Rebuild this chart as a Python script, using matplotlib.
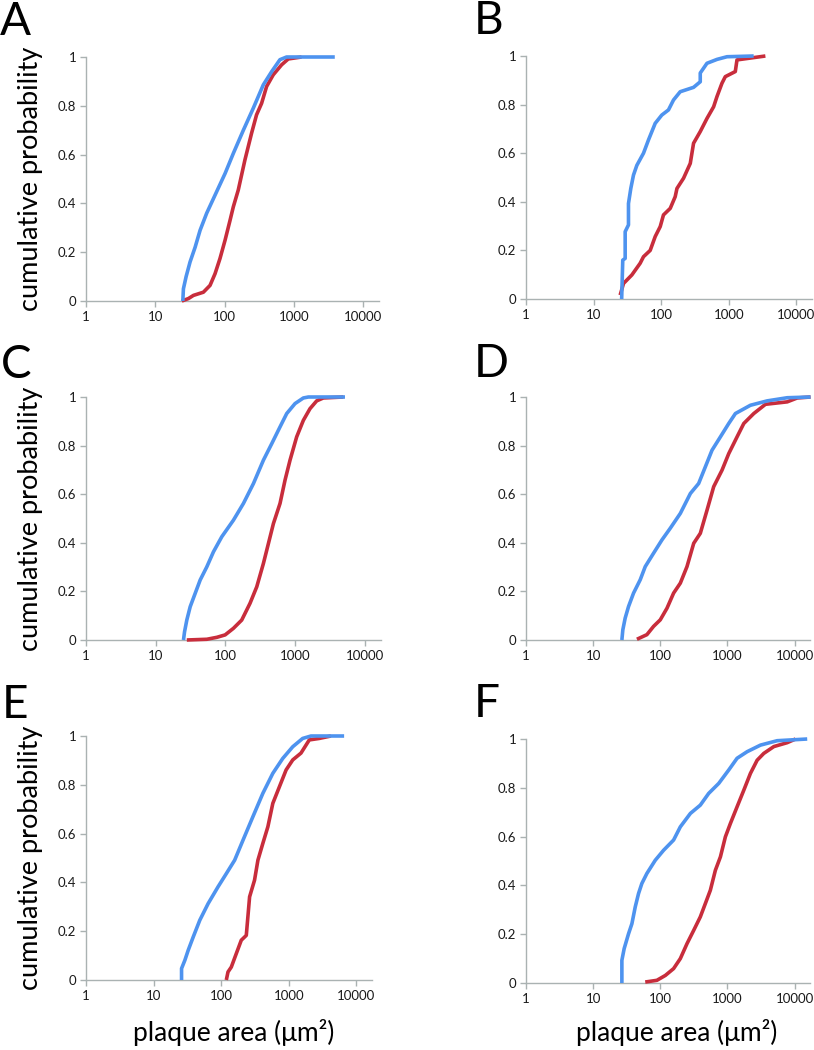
import numpy as np
import matplotlib
matplotlib.use('Agg')
import matplotlib.pyplot as plt
from matplotlib.ticker import FixedLocator, FixedFormatter, NullLocator

plt.rcParams['font.family'] = ['Lato', 'DejaVu Sans']

# cumulative probability curves, x = plaque area (um^2)
a_blue_x = [25, 25.5, 27.9, 31.8, 37.6, 44.4, 55.3, 73, 102, 134, 187, 260, 363, 479, 631, 787, 3908]
a_blue_y = [0, 0.05, 0.10, 0.16, 0.22, 0.29, 0.36, 0.434, 0.523, 0.605, 0.70, 0.79, 0.886, 0.94, 0.989, 1.0, 1.0]
a_red_x = [24.2, 30.1, 35.6, 49.5, 61.8, 73, 86, 102, 120, 134, 158, 197, 246, 290, 343, 405, 505, 667, 832, 1294]
a_red_y = [0, 0.01, 0.023, 0.036, 0.064, 0.112, 0.174, 0.25, 0.33, 0.386, 0.455, 0.578, 0.688, 0.763, 0.81,
           0.879, 0.927, 0.968, 0.992, 1.0]

b_blue_x = [26, 27, 29.3, 29.3, 32.8, 32.8, 35.5, 38.9, 43.6, 54.7, 64.9, 81.5, 102, 128, 152, 191, 301, 378,
            378, 475, 668, 940, 2333]
b_blue_y = [0, 0.16, 0.167, 0.277, 0.305, 0.393, 0.455, 0.51, 0.55, 0.60, 0.655, 0.723, 0.757, 0.778, 0.819,
            0.853, 0.871, 0.894, 0.93, 0.97, 0.986, 0.997, 1.0]
b_red_x = [24.7, 27.7, 36.8, 48.8, 54.7, 68.7, 81.5, 96.7, 108, 136, 161, 171, 214, 269, 301, 378, 475, 596,
           668, 792, 887, 1247, 1321, 3475]
b_red_y = [0.016, 0.064, 0.099, 0.147, 0.174, 0.20, 0.257, 0.298, 0.346, 0.373, 0.421, 0.455, 0.497, 0.558,
           0.641, 0.689, 0.743, 0.791, 0.833, 0.888, 0.915, 0.936, 0.984, 1.0]

c_blue_x = [25, 25.9, 27.9, 31.2, 36.8, 43.4, 54, 67.3, 88.6, 130, 181, 252, 350, 461, 606, 756, 995, 1309,
            1545, 5176]
c_blue_y = [0, 0.034, 0.082, 0.137, 0.192, 0.247, 0.301, 0.363, 0.425, 0.493, 0.562, 0.644, 0.74, 0.808,
            0.877, 0.932, 0.973, 0.996, 1.0, 1.0]
c_red_x = [27.9, 54, 75.2, 98.9, 130, 171, 225, 281, 350, 413, 487, 606, 715, 843, 1050, 1309, 1630, 2032,
           2529, 4898]
c_red_y = [0, 0.003, 0.011, 0.021, 0.048, 0.082, 0.151, 0.219, 0.315, 0.397, 0.479, 0.562, 0.658, 0.74,
           0.836, 0.904, 0.952, 0.984, 0.996, 1.0]

d_blue_x = [26.8, 27.7, 30, 33.7, 40, 50.3, 59.7, 79.4, 106, 141, 199, 281, 373, 470, 590, 787, 1047, 1316,
            2203, 3908, 7780, 17330]
d_blue_y = [0, 0.042, 0.09, 0.138, 0.193, 0.248, 0.302, 0.357, 0.412, 0.46, 0.521, 0.603, 0.644, 0.713,
            0.781, 0.836, 0.891, 0.932, 0.966, 0.984, 0.997, 1.0]
d_red_x = [44.9, 63.2, 79.4, 100, 126, 158, 199, 250, 315, 395, 498, 625, 832, 1047, 1393, 1754, 2472, 3690,
           7780, 10960, 17330]
d_red_y = [0.003, 0.022, 0.056, 0.083, 0.131, 0.193, 0.234, 0.302, 0.398, 0.439, 0.535, 0.631, 0.699, 0.767,
           0.836, 0.891, 0.932, 0.97, 0.98, 0.996, 1.0]

e_blue_x = [25.9, 25.9, 29, 32.5, 38.5, 48.2, 64, 89.8, 119, 158, 210, 294, 413, 580, 813, 1143, 1603, 2128,
            6577]
e_blue_y = [0, 0.047, 0.081, 0.122, 0.176, 0.245, 0.313, 0.382, 0.436, 0.491, 0.573, 0.669, 0.765, 0.847,
            0.908, 0.956, 0.99, 1.0, 1.0]
e_red_x = [119, 126, 141, 167, 198, 235, 263, 311, 349, 413, 490, 580, 726, 912, 1143, 1514, 2009, 2818, 4188]
e_red_y = [0, 0.033, 0.053, 0.108, 0.163, 0.183, 0.341, 0.409, 0.491, 0.56, 0.628, 0.724, 0.792, 0.861,
           0.902, 0.93, 0.984, 0.99, 1.0]

f_blue_x = [26.8, 26.8, 29, 33.7, 37.8, 42.4, 47.5, 53.2, 63.2, 84.2, 112, 158, 199, 281, 395, 526, 743,
            1047, 1393, 1968, 3112, 5508, 15450]
f_blue_y = [0, 0.093, 0.141, 0.202, 0.243, 0.312, 0.367, 0.408, 0.449, 0.503, 0.544, 0.586, 0.64, 0.695,
            0.729, 0.777, 0.818, 0.873, 0.921, 0.948, 0.975, 0.993, 1.0]
f_red_x = [59.7, 89.1, 119, 158, 199, 250, 315, 395, 470, 557, 662, 787, 933, 1109, 1393, 1754, 2203, 2773,
           3483, 4920, 7780, 10350]
f_red_y = [0.004, 0.011, 0.031, 0.059, 0.10, 0.161, 0.216, 0.271, 0.326, 0.38, 0.462, 0.517, 0.599, 0.654,
           0.722, 0.79, 0.859, 0.913, 0.941, 0.969, 0.985, 1.0]

x_ticks = [1, 10, 100, 1000, 10000]
x_labels = ['1', '10', '100', '1000', '10000']
y_ticks = [0, 0.2, 0.4, 0.6, 0.8, 1.0]
y_labels = ['0', '0.2', '0.4', '0.6', '0.8', '1']

blue = '#4e93ef'
red = '#c82d3c'
axis_gray = '#aab2b2'

W, H = 814, 1050
fig = plt.figure(figsize=(W / 100, H / 100), dpi=100)

# panel boxes in pixels: left, right, top(y=1), bottom(y=0)
panels = [
    ('A', (86, 379, 57, 301), a_blue_x, a_blue_y, a_red_x, a_red_y, (0, 35)),
    ('B', (526, 812, 56, 299), b_blue_x, b_blue_y, b_red_x, b_red_y, (474, 34)),
    ('C', (86, 381, 397, 640), c_blue_x, c_blue_y, c_red_x, c_red_y, (1, 378)),
    ('D', (526, 810, 397, 640), d_blue_x, d_blue_y, d_red_x, d_red_y, (474, 377)),
    ('E', (86, 372, 736, 980), e_blue_x, e_blue_y, e_red_x, e_red_y, (2, 718)),
    ('F', (526, 810, 739, 983), f_blue_x, f_blue_y, f_red_x, f_red_y, (474, 717)),
]

for letter, (l, r, t, b), bx, by, rx, ry, (lx, ly) in panels:
    ax = fig.add_axes([l / W, 1 - b / H, (r - l) / W, (b - t) / H])
    ax.plot(rx, ry, color=red, lw=2.6, solid_capstyle='butt', clip_on=False, zorder=3)
    ax.plot(bx, by, color=blue, lw=2.6, solid_capstyle='butt', clip_on=False, zorder=4)
    ax.set_xscale('log')
    ax.set_xlim(1, 17000)
    ax.set_ylim(0, 1)
    ax.xaxis.set_major_locator(FixedLocator(x_ticks))
    ax.xaxis.set_major_formatter(FixedFormatter(x_labels))
    ax.xaxis.set_minor_locator(NullLocator())
    ax.yaxis.set_major_locator(FixedLocator(y_ticks))
    ax.yaxis.set_major_formatter(FixedFormatter(y_labels))
    for s in ['top', 'right']:
        ax.spines[s].set_visible(False)
    for s in ['left', 'bottom']:
        ax.spines[s].set_color(axis_gray)
        ax.spines[s].set_linewidth(1.0)
    ax.tick_params(axis='both', color=axis_gray, length=4, width=1.0, labelsize=9.5,
                   labelcolor='#1a1a1a', pad=3)
    ax.set_facecolor('none')
    fig.text(lx / W, 1 - ly / H, letter, fontsize=33, ha='left', va='baseline', color='black')
    if letter in 'ACE':
        fig.text(31 / W, 1 - (t + b) / 2 / H, 'cumulative probability', rotation=90,
                 fontsize=19.5, ha='center', va='center', color='black')
    if letter in 'EF':
        xc = 234 if letter == 'E' else 677
        fig.text(xc / W, 1 - 1033 / H, 'plaque area (\u03bcm\u00b2)', fontsize=19,
                 ha='center', va='center', color='black')

fig.savefig('out.png', dpi=100)
